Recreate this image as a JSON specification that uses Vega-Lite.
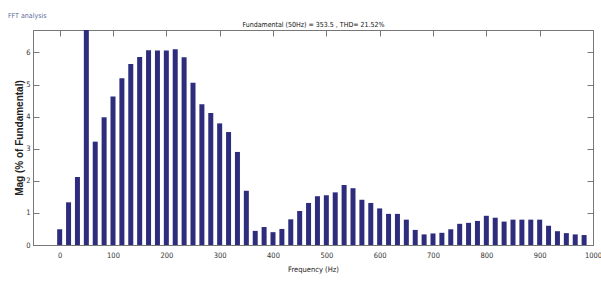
{
  "$schema": "https://vega.github.io/schema/vega-lite/v6.json",
  "width": 560,
  "height": 215,
  "autosize": {"type": "none"},
  "padding": {"left": 33, "top": 30, "right": 8, "bottom": 56},
  "background": "white",
  "config": {
    "view": {"stroke": "#777", "strokeWidth": 1},
    "font": "DejaVu Sans Condensed, Liberation Sans, sans-serif"
  },
  "title": {
    "text": "FFT analysis",
    "anchor": "start",
    "frame": "group",
    "dx": -25,
    "offset": 2,
    "fontSize": 7,
    "fontWeight": "normal",
    "color": "#5b6b9c",
    "font": "DejaVu Sans Condensed, Liberation Sans, sans-serif"
  },
  "data": {
    "values": [
      {"f": 0, "v": 0.49}, {"f": 16.67, "v": 1.33}, {"f": 33.33, "v": 2.12}, {"f": 50, "v": 100},
      {"f": 66.67, "v": 3.22}, {"f": 83.33, "v": 3.98}, {"f": 100, "v": 4.63}, {"f": 116.67, "v": 5.2},
      {"f": 133.33, "v": 5.64}, {"f": 150, "v": 5.86}, {"f": 166.67, "v": 6.07}, {"f": 183.33, "v": 6.06},
      {"f": 200, "v": 6.06}, {"f": 216.67, "v": 6.1}, {"f": 233.33, "v": 5.85}, {"f": 250, "v": 5.06},
      {"f": 266.67, "v": 4.39}, {"f": 283.33, "v": 4.11}, {"f": 300, "v": 3.79}, {"f": 316.67, "v": 3.52},
      {"f": 333.33, "v": 2.9}, {"f": 350, "v": 1.69}, {"f": 366.67, "v": 0.44}, {"f": 383.33, "v": 0.56},
      {"f": 400, "v": 0.4}, {"f": 416.67, "v": 0.5}, {"f": 433.33, "v": 0.8}, {"f": 450, "v": 1.06},
      {"f": 466.67, "v": 1.31}, {"f": 483.33, "v": 1.52}, {"f": 500, "v": 1.55}, {"f": 516.67, "v": 1.64},
      {"f": 533.33, "v": 1.87}, {"f": 550, "v": 1.77}, {"f": 566.67, "v": 1.41}, {"f": 583.33, "v": 1.31},
      {"f": 600, "v": 1.14}, {"f": 616.67, "v": 0.97}, {"f": 633.33, "v": 0.97}, {"f": 650, "v": 0.79},
      {"f": 666.67, "v": 0.47}, {"f": 683.33, "v": 0.33}, {"f": 700, "v": 0.36}, {"f": 716.67, "v": 0.38},
      {"f": 733.33, "v": 0.49}, {"f": 750, "v": 0.66}, {"f": 766.67, "v": 0.69}, {"f": 783.33, "v": 0.75},
      {"f": 800, "v": 0.91}, {"f": 816.67, "v": 0.85}, {"f": 833.33, "v": 0.73}, {"f": 850, "v": 0.79},
      {"f": 866.67, "v": 0.79}, {"f": 883.33, "v": 0.79}, {"f": 900, "v": 0.79}, {"f": 916.67, "v": 0.6},
      {"f": 933.33, "v": 0.43}, {"f": 950, "v": 0.37}, {"f": 966.67, "v": 0.33}, {"f": 983.33, "v": 0.31}
    ]
  },
  "layer": [
    {
      "mark": {"type": "bar", "size": 5, "color": "#2e2c7c", "clip": true},
      "encoding": {
        "x": {
          "field": "f", "type": "quantitative",
          "scale": {"domain": [-50, 1000], "nice": false, "zero": false, "padding": 0},
          "axis": {
            "orient": "bottom", "title": "Frequency (Hz)", "values": [0,100,200,300,400,500,600,700,800,900,1000],
            "format": "d", "labelFlush": false, "labelOverlap": false, "labelBound": false,
            "grid": false, "domainColor": "#777", "tickColor": "#777", "tickSize": -6,
            "labelFontSize": 7.5, "labelColor": "#333", "labelPadding": 12,
            "titleFontSize": 7.5, "titleFontWeight": "normal", "titleColor": "#222", "titlePadding": 7,
            "labelFont": "DejaVu Sans Condensed, Liberation Sans, sans-serif", "titleFont": "DejaVu Sans Condensed, Liberation Sans, sans-serif"
          }
        },
        "y": {
          "field": "v", "type": "quantitative",
          "scale": {"domain": [0, 6.7], "nice": false, "padding": 0},
          "axis": {
            "orient": "left", "title": "Mag (% of Fundamental)", "values": [0,1,2,3,4,5,6],
            "labelFlush": false,
            "grid": false, "domainColor": "#777", "tickColor": "#777", "tickSize": -6,
            "labelFontSize": 7.5, "labelColor": "#333", "labelPadding": 9,
            "titleFontSize": 10, "titleFontWeight": "bold", "titleColor": "#222", "titlePadding": 1,
            "labelFont": "DejaVu Sans Condensed, Liberation Sans, sans-serif", "titleFont": "Liberation Sans, sans-serif"
          }
        }
      }
    },
    {
      "mark": {"type": "bar", "size": 5, "opacity": 0, "clip": true},
      "encoding": {
        "x": {
          "field": "f", "type": "quantitative",
          "axis": {
            "orient": "top", "title": "Fundamental (50Hz) = 353.5 , THD= 21.52%", "values": [0,100,200,300,400,500,600,700,800,900,1000],
            "labels": false, "grid": false, "domainColor": "#777", "tickColor": "#777", "tickSize": -6,
            "titleFontSize": 7, "titleFontWeight": "normal", "titleColor": "#111", "titlePadding": 2,
            "titleFont": "DejaVu Sans Condensed, Liberation Sans, sans-serif"
          }
        },
        "y": {
          "field": "v", "type": "quantitative",
          "axis": {
            "orient": "right", "title": null, "values": [0,1,2,3,4,5,6],
            "labels": false, "grid": false, "domainColor": "#777", "tickColor": "#777", "tickSize": -6
          }
        }
      }
    }
  ],
  "resolve": {"axis": {"x": "independent", "y": "independent"}}
}
